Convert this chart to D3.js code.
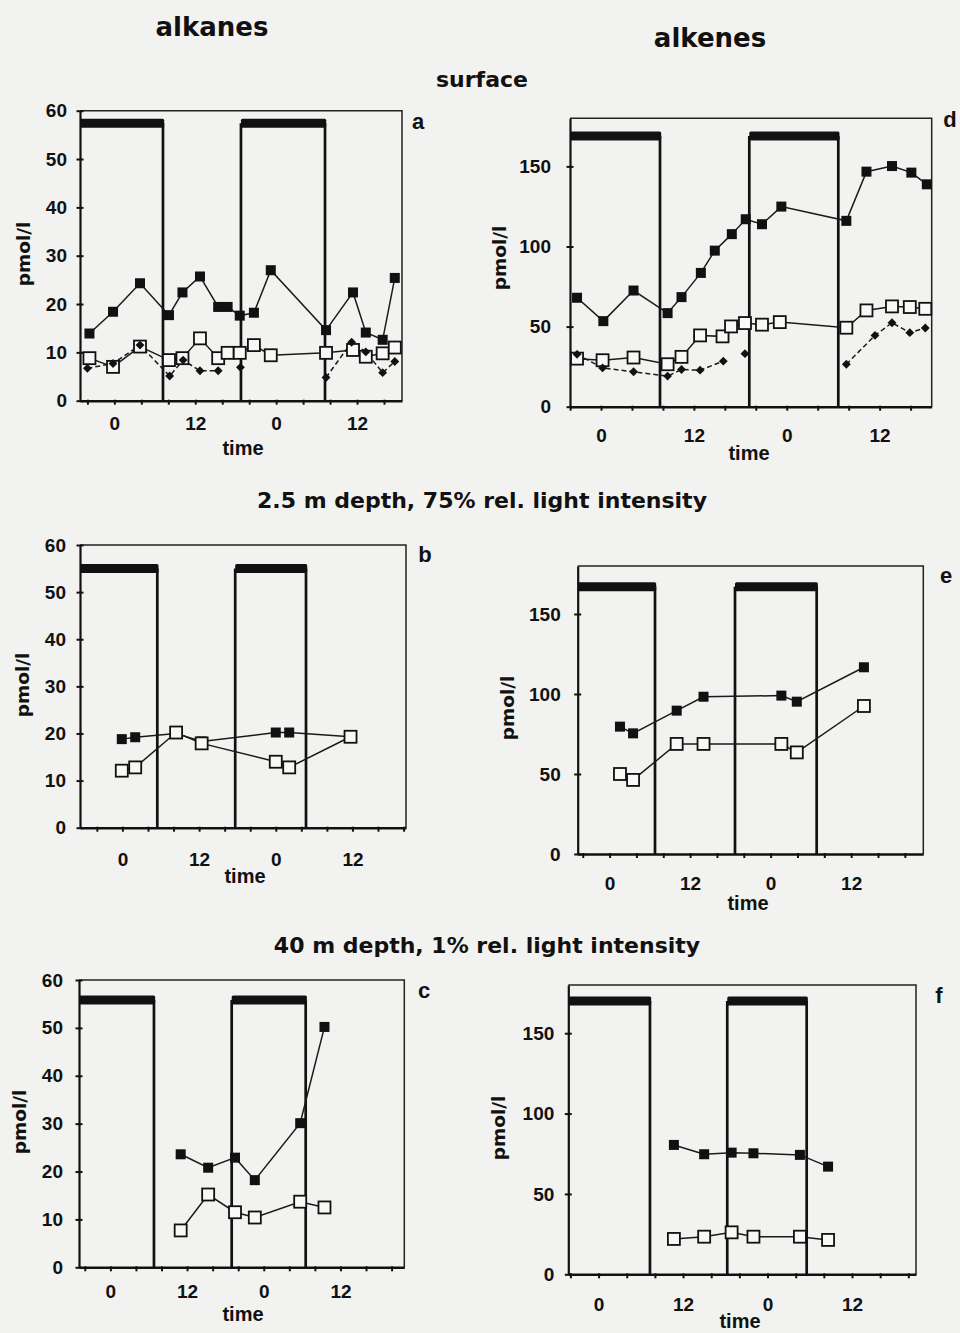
<!DOCTYPE html>
<html>
<head>
<meta charset="utf-8">
<script src="https://cdn.jsdelivr.net/npm/d3@7"></script>
<style>
  body { margin: 0; background: #f2f2f0; }
  svg { display: block; }
  .tick text { font-family: "Liberation Sans", Arial, sans-serif; font-weight: bold; font-size: 19px; fill: #111; }
</style>
</head>
<body>
<svg id="fig" width="960" height="1333"></svg>
<script>
// ---------- data: sampling time (h) and concentration (pmol/l) ----------
// Surface, alkanes (a)
const aTimeSq      = [-3.7, -0.2, 3.8, 8.1, 10.1, 12.7, 15.4, 16.8, 18.6, 20.7, 23.2, 31.4, 35.4, 37.3, 39.8, 41.6];
const aFilled      = [13.9, 18.4, 24.3, 17.7, 22.4, 25.7, 19.4, 19.4, 17.6, 18.2, 27.0, 14.6, 22.4, 14.1, 12.6, 25.4];
const aOpen        = [8.8, 7.0, 11.2, 8.4, 8.8, 12.9, 8.8, 9.9, 9.9, 11.5, 9.4, 9.9, 10.5, 9.1, 9.8, 11.0];
const aTimeDia     = [-4.0, -0.2, 3.8, 8.2, 10.2, 12.7, 15.4, null, 18.7, null, 31.4, 35.2, 37.3, 39.8, 41.6];
const aDiamond     = [6.7, 7.7, 11.5, 5.1, 8.4, 6.2, 6.2, null, 6.9, null, 4.8, 12.1, 10.1, 5.8, 8.1];
const aNight       = [[null, 7.21], [18.78, 31.25]];

// Surface, alkenes (d)
const dTimeFilled  = [-3.1, 0.3, 4.2, 8.6, 10.4, 12.9, 14.7, 16.9, 18.7, 20.8, 23.3, 31.7, 34.3, 37.6, 40.1, 42.1];
const dFilled      = [68.0, 53.4, 72.5, 58.4, 68.4, 83.5, 97.4, 107.7, 117.0, 113.9, 124.9, 116.0, 146.7, 150.2, 146.1, 138.8];
const dTimeOpen    = [-3.1, 0.2, 4.2, 8.6, 10.4, 12.8, 15.7, 16.8, 18.6, 20.8, 23.1, 31.7, 34.3, 37.6, 39.9, 41.9];
const dOpen        = [30.0, 29.0, 30.7, 26.5, 31.1, 44.5, 43.9, 50.1, 52.2, 51.2, 52.8, 49.3, 60.1, 62.6, 62.2, 61.1];
const dTimeDia     = [-3.1, 0.2, 4.2, 8.6, 10.4, 12.8, 15.8, null, 18.6, null, 31.7, 35.4, 37.6, 39.9, 41.9];
const dDiamond     = [32.7, 24.2, 21.8, 19.1, 23.2, 22.8, 28.4, null, 33.1, null, 26.5, 44.5, 52.4, 46.2, 49.1];
const dNight       = [[null, 7.62], [19.16, 30.66]];

// 2.5 m depth, alkanes (b)
const bTime        = [-0.1, 2.0, 8.4, 12.4, 24.0, 26.1, 35.7];
const bFilled      = [18.8, 19.2, 20.0, 18.3, 20.2, 20.2, 19.3];
const bOpen        = [12.1, 12.8, 20.2, 17.9, 14.0, 12.8, 19.3];
const bNight       = [[null, 5.46], [17.65, 28.73]];

// 2.5 m depth, alkenes (e)
const eTime        = [1.55, 3.5, 10.0, 14.0, 25.6, 27.9, 37.9];
const eFilled      = [79.6, 75.4, 89.6, 98.3, 99.0, 95.2, 116.7];
const eOpen        = [50.0, 46.3, 68.8, 68.8, 68.8, 63.5, 92.5];
const eNight       = [[null, 6.77], [18.69, 30.86]];

// 40 m depth, alkanes (c)
const cTime        = [11.0, 15.3, 19.5, 22.6, 29.7, 33.5];
const cFilled      = [23.6, 20.8, 22.9, 18.2, 30.1, 50.2];
const cOpen        = [7.7, 15.2, 11.5, 10.4, 13.7, 12.5];
const cNight       = [[null, 6.82], [18.98, 30.56]];

// 40 m depth, alkenes (f)
const fTime        = [10.7, 15.0, 18.9, 22.0, 28.6, 32.6];
const fFilled      = [80.5, 74.7, 75.7, 75.3, 74.3, 67.0];
const fOpen        = [22.0, 23.4, 26.1, 23.4, 23.4, 21.4];
const fNight       = [[null, 7.30], [18.28, 29.56]];

// axis labelling
const alkaneTicks   = [0, 10, 20, 30, 40, 50, 60];
const alkeneTicks   = [0, 50, 100, 150];
const labelledHours = [0, 12, 24, 36];

// ---------- layout ----------
const ink = "#111";
const paper = "#f2f2f0";

const panels = [
  { letter: "a", left: 80, right: 402, top: 110.7, bottom: 400.7, xDomain: [-5.1, 42.67], yMax: 60, yTicks: alkaneTicks,
    night: aNight, nightLevel: 57.4, xPad: 12, yPad: 9,
    letterPos: [418, 129], timePos: [243, 455], yLabelPos: [30, 254],
    series: [
      { kind: "filled", t: aTimeSq, v: aFilled },
      { kind: "open", t: aTimeSq, v: aOpen },
      { kind: "diamond", t: aTimeDia, v: aDiamond }
    ] },
  { letter: "d", left: 570, right: 931.7, top: 118.3, bottom: 406.7, xDomain: [-4.01, 42.73], yMax: 180, yTicks: alkeneTicks,
    night: dNight, nightLevel: 169, xPad: 17.5, yPad: 15,
    letterPos: [950, 127], timePos: [749, 460], yLabelPos: [505.5, 258],
    series: [
      { kind: "filled", t: dTimeFilled, v: dFilled },
      { kind: "open", t: dTimeOpen, v: dOpen },
      { kind: "diamond", t: dTimeDia, v: dDiamond }
    ] },
  { letter: "b", left: 80, right: 406, top: 545, bottom: 827.7, xDomain: [-6.64, 44.38], yMax: 60, yTicks: alkaneTicks,
    night: bNight, nightLevel: 55.0, xPad: 21, yPad: 10,
    letterPos: [425, 562], timePos: [245, 883], yLabelPos: [29, 685],
    series: [
      { kind: "filled", t: bTime, v: bFilled },
      { kind: "open", t: bTime, v: bOpen }
    ] },
  { letter: "e", left: 577.7, right: 923.3, top: 566, bottom: 854, xDomain: [-4.75, 46.75], yMax: 180, yTicks: alkeneTicks,
    night: eNight, nightLevel: 167, xPad: 18.5, yPad: 13,
    letterPos: [946, 583], timePos: [748, 910], yLabelPos: [513.8, 708],
    series: [
      { kind: "filled", t: eTime, v: eFilled },
      { kind: "open", t: eTime, v: eOpen }
    ] },
  { letter: "c", left: 79, right: 404.3, top: 980, bottom: 1267.3, xDomain: [-4.91, 45.99], yMax: 60, yTicks: alkaneTicks,
    night: cNight, nightLevel: 55.8, xPad: 13.5, yPad: 12,
    letterPos: [424, 998], timePos: [243, 1321], yLabelPos: [25.6, 1122],
    series: [
      { kind: "filled", t: cTime, v: cFilled },
      { kind: "open", t: cTime, v: cOpen }
    ] },
  { letter: "f", left: 568.3, right: 916, top: 985, bottom: 1274.3, xDomain: [-4.30, 45.09], yMax: 180, yTicks: alkeneTicks,
    night: fNight, nightLevel: 170, xPad: 19.5, yPad: 10,
    letterPos: [939, 1003], timePos: [740, 1328], yLabelPos: [504.8, 1128],
    series: [
      { kind: "filled", t: fTime, v: fFilled },
      { kind: "open", t: fTime, v: fOpen }
    ] }
];

const headings = [
  { text: "alkanes", x: 212, y: 36, size: 26 },
  { text: "alkenes", x: 710, y: 47, size: 26 },
  { text: "surface", x: 482, y: 87, size: 22 },
  { text: "2.5 m depth, 75% rel. light intensity", x: 482, y: 508, size: 22 },
  { text: "40 m depth, 1% rel. light intensity", x: 487, y: 953, size: 22 }
];

// ---------- drawing ----------
const svg = d3.select("#fig");
svg.append("rect").attr("width", 960).attr("height", 1333).attr("fill", paper);

const headFont = "'DejaVu Sans', Verdana, sans-serif";
const tickFont = "'Liberation Sans', Arial, sans-serif";

headings.forEach(h => {
  svg.append("text")
    .attr("x", h.x).attr("y", h.y)
    .attr("text-anchor", "middle")
    .attr("font-family", headFont).attr("font-weight", "bold")
    .attr("font-size", h.size).attr("fill", ink)
    .text(h.text);
});

panels.forEach(p => {
  const x = d3.scaleLinear().domain(p.xDomain).range([p.left, p.right]);
  const y = d3.scaleLinear().domain([0, p.yMax]).range([p.bottom, p.top]);
  const g = svg.append("g");

  // plot frame (top and right edges)
  g.append("path")
    .attr("d", `M${p.left},${p.top}H${p.right}V${p.bottom}`)
    .attr("fill", "none").attr("stroke", "#222").attr("stroke-width", 1.5);

  // dark periods: thick bar on top of an open box reaching down to zero
  p.night.forEach(([s, e]) => {
    const x0 = s == null ? x(p.xDomain[0]) : x(s);
    const x1 = x(e);
    const yl = y(p.nightLevel);
    g.append("rect")
      .attr("x", x0).attr("y", yl - 4.5)
      .attr("width", x1 - x0 + 1.2).attr("height", 9)
      .attr("rx", 1.5)
      .attr("fill", ink);
    const sides = s == null ? [x1] : [x0, x1];
    sides.forEach(xs => {
      g.append("line")
        .attr("x1", xs).attr("x2", xs)
        .attr("y1", yl).attr("y2", y(0))
        .attr("stroke", ink).attr("stroke-width", 2.7);
    });
  });

  // y axis, ticks crossing the axis line
  const yAxis = g.append("g")
    .attr("transform", `translate(${p.left},0)`)
    .call(d3.axisLeft(y).tickValues(p.yTicks).tickSize(4).tickSizeOuter(0).tickPadding(p.yPad));
  yAxis.select(".domain").attr("stroke", ink).attr("stroke-width", 2.2);
  yAxis.selectAll(".tick line").attr("x1", 3.5).attr("x2", -3.5).attr("stroke", ink).attr("stroke-width", 2);
  yAxis.selectAll(".tick text").attr("font-family", tickFont);

  // x axis: ticks every 4 h, labels as hour of the day
  const xTicks = d3.range(Math.ceil(p.xDomain[0] / 4) * 4, p.xDomain[1], 4);
  const xAxis = g.append("g")
    .attr("transform", `translate(0,${p.bottom})`)
    .call(d3.axisBottom(x).tickValues(xTicks).tickSize(4).tickSizeOuter(0).tickPadding(p.xPad)
      .tickFormat(d => labelledHours.includes(d) ? String(d % 24) : ""));
  xAxis.select(".domain").attr("stroke", ink).attr("stroke-width", 2.6);
  xAxis.selectAll(".tick line").attr("y1", -1).attr("stroke", ink).attr("stroke-width", 2);
  xAxis.selectAll(".tick text").attr("font-family", tickFont);

  // series: lines first, then markers
  const pts = s => s.t.map((t, i) => [t, s.v[i]]);
  const line = d3.line()
    .defined(d => d[0] != null && d[1] != null)
    .x(d => x(d[0])).y(d => y(d[1]));

  p.series.forEach(s => {
    g.append("path")
      .attr("d", line(pts(s)))
      .attr("fill", "none")
      .attr("stroke", "#1a1a1a")
      .attr("stroke-width", 1.5)
      .attr("stroke-dasharray", s.kind === "diamond" ? "5,3" : null);
  });

  p.series.forEach(s => {
    const data = pts(s).filter(d => d[0] != null && d[1] != null);
    const m = g.append("g");
    if (s.kind === "filled") {
      m.selectAll("rect").data(data).join("rect")
        .attr("x", d => x(d[0]) - 5).attr("y", d => y(d[1]) - 5)
        .attr("width", 10).attr("height", 10)
        .attr("fill", ink);
    } else if (s.kind === "open") {
      m.selectAll("rect").data(data).join("rect")
        .attr("x", d => x(d[0]) - 6).attr("y", d => y(d[1]) - 6)
        .attr("width", 12).attr("height", 12)
        .attr("fill", "#f8f8f6").attr("stroke", ink).attr("stroke-width", 1.8);
    } else {
      m.selectAll("path").data(data).join("path")
        .attr("d", d3.symbol(d3.symbolDiamond2, 50)())
        .attr("transform", d => `translate(${x(d[0])},${y(d[1])})`)
        .attr("fill", ink);
    }
  });

  // panel letter, axis titles
  g.append("text")
    .attr("x", p.letterPos[0]).attr("y", p.letterPos[1])
    .attr("text-anchor", "middle")
    .attr("font-family", tickFont).attr("font-weight", "bold")
    .attr("font-size", 22).attr("fill", ink)
    .text(p.letter);

  g.append("text")
    .attr("x", p.timePos[0]).attr("y", p.timePos[1])
    .attr("text-anchor", "middle")
    .attr("font-family", tickFont).attr("font-weight", "bold")
    .attr("font-size", 20).attr("fill", ink)
    .text("time");

  g.append("text")
    .attr("transform", `translate(${p.yLabelPos[0]},${p.yLabelPos[1]}) rotate(-90)`)
    .attr("text-anchor", "middle")
    .attr("font-family", headFont).attr("font-weight", "bold")
    .attr("font-size", 18.5).attr("fill", ink)
    .text("pmol/l");
});
</script>
</body>
</html>
